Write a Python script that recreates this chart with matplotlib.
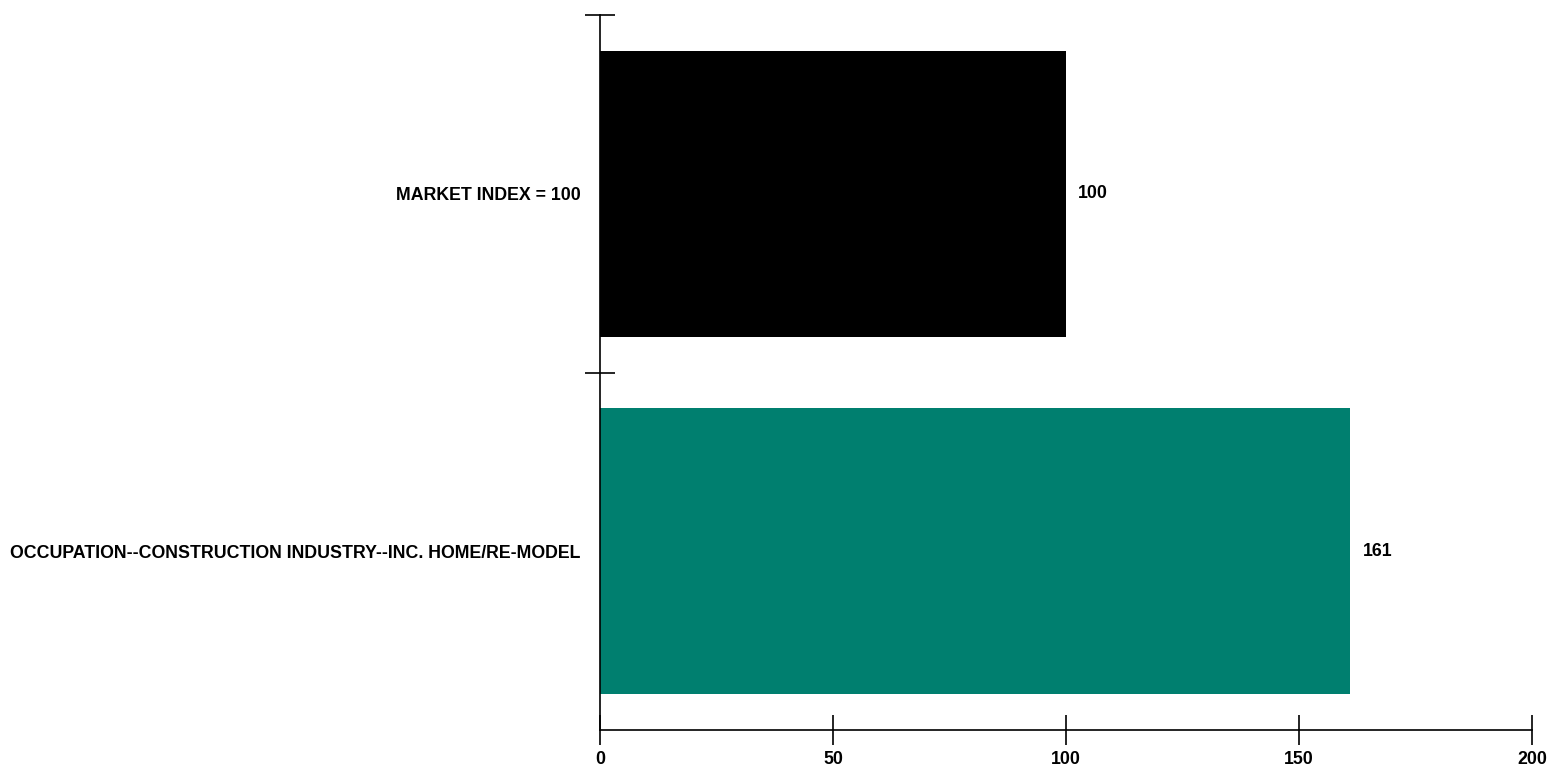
import matplotlib
matplotlib.use('Agg')
import matplotlib.pyplot as plt

categories = ['OCCUPATION--CONSTRUCTION INDUSTRY--INC. HOME/RE-MODEL', 'MARKET INDEX = 100']
values = [161, 100]
bar_colors = ['#007F6F', '#000000']
x_ticks = [0, 50, 100, 150, 200]

plt.rcParams['font.family'] = ['Liberation Sans', 'DejaVu Sans']
plt.rcParams['font.weight'] = 'bold'

fig = plt.figure(figsize=(15.57, 7.79), dpi=100)
ax = fig.add_axes([600 / 1557, 1 - 730 / 779, 932 / 1557, 715 / 779])

pos = list(range(len(categories)))
ax.barh(pos, values, height=0.8, color=bar_colors)
for p, v in zip(pos, values):
  ax.text(v + 2.6, p, str(v), va='center', ha='left', fontsize=12.75, fontweight='bold')

ax.set_xlim(0, 200)
ax.set_ylim(-0.5, len(categories) - 0.5)
ax.set_xticks(x_ticks)
ax.set_xticklabels([str(t) for t in x_ticks], fontsize=12.75, fontweight='bold')
ax.set_yticks(pos)
ax.set_yticklabels(categories, fontsize=12.75, fontweight='bold')
ax.set_yticks([0.5, 1.5], minor=True)

ax.tick_params(axis='x', direction='inout', length=21.6, width=1.2, pad=4)
ax.tick_params(axis='y', which='major', length=0, pad=14)
ax.tick_params(axis='y', which='minor', direction='inout', length=21.6, width=1.2)

for side in ['top', 'right']:
  ax.spines[side].set_visible(False)
for side in ['left', 'bottom']:
  ax.spines[side].set_linewidth(1.2)

fig.savefig('out.png', dpi=100)
